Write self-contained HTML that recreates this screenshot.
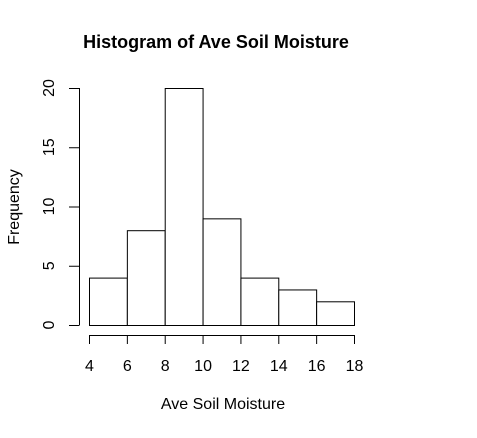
<!DOCTYPE html>
<html><head><meta charset="utf-8"><style>body{margin:0;background:#fff}text{font-family:"Liberation Sans",Arial,sans-serif}</style></head>
<body>
<svg id="c" width="477" height="433">
<text x="216" y="48" text-anchor="middle" font-size="18" font-weight="bold">Histogram of Ave Soil Moisture</text>
<text x="223" y="409" text-anchor="middle" font-size="16">Ave Soil Moisture</text>
<text transform="translate(19,207) rotate(-90)" text-anchor="middle" font-size="16">Frequency</text>
<g id="bars"></g><g id="ax"></g>
</svg>
<script>
const breaks=[4,6,8,10,12,14,16,18];
const counts=[4,8,20,9,4,3,2];
const yTicks=[0,5,10,15,20];
const ns="http://www.w3.org/2000/svg";
const X=v=>89+(v-4)*(354-89)/14;
const Y=v=>325-v*(325-88)/20;
function mk(t,a,p){const e=document.createElementNS(ns,t);for(const k in a)e.setAttribute(k,a[k]);p.appendChild(e);return e;}
const bars=document.getElementById('bars'),ax=document.getElementById('ax');
counts.forEach((c,i)=>{const r=mk('rect',{x:X(breaks[i])+0.5,y:Y(c)+0.5,width:X(breaks[i+1])-X(breaks[i]),height:Y(0)-Y(c),fill:'#fff',stroke:'#000','stroke-width':1},bars);

});
const xl=mk('line',{x1:X(4),x2:X(18),y1:335.5,y2:335.5,stroke:'#000'},ax);


breaks.forEach(b=>{mk('line',{x1:X(b)+0.5,x2:X(b)+0.5,y1:335,y2:344,stroke:'#000'},ax);
const t=mk('text',{x:X(b)+0.5,y:371,'text-anchor':'middle','font-size':16},ax);t.textContent=b;

});
const yl=mk('line',{x1:79.5,x2:79.5,y1:Y(0),y2:Y(20),stroke:'#000'},ax);


yTicks.forEach(v=>{mk('line',{x1:69,x2:79.5,y1:Y(v)+0.5,y2:Y(v)+0.5,stroke:'#000'},ax);
const t=mk('text',{transform:`translate(54,${Y(v)}) rotate(-90)`,'text-anchor':'middle','font-size':16},ax);t.textContent=v;

});
</script>
</body></html>
